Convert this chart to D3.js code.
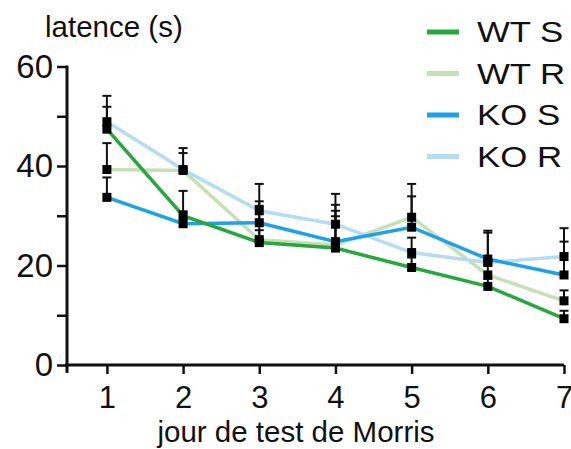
<!DOCTYPE html>
<html>
<head>
<meta charset="utf-8">
<script src="https://cdn.jsdelivr.net/npm/d3@7"></script>
<style>
  body { margin: 0; background: #fff; }
  text { font-family: "Liberation Sans", Arial, sans-serif; fill: #111; }
</style>
</head>
<body>
<svg id="chart" width="571" height="449"></svg>
<script>
// jours du test
const days = [1, 2, 3, 4, 5, 6, 7];
const yTicks = [0, 10, 20, 30, 40, 50, 60];
const yLabels = [0, 20, 40, 60];

// moyennes (latence en s)
const wtS = [47.4, 30.0, 24.6, 23.5, 19.6, 15.8, 9.3];
const wtR = [39.3, 39.1, 25.2, 24.1, 29.7, 18.1, 12.9];
const koS = [33.7, 28.4, 28.6, 24.8, 27.7, 21.3, 18.1];
const koR = [48.9, 39.3, 31.0, 28.3, 22.6, 20.6, 21.8];

// erreurs (barre vers le haut seulement)
const wtSErr = [4.5, 5.0, 2.5, 6.4, 2.0, 1.5, 1.6];
const wtRErr = [5.3, 3.5, 6.8, 6.9, 6.7, 2.0, 2.1];
const koSErr = [4.0, 2.5, 4.3, 7.4, 6.2, 5.7, 6.7];
const koRErr = [5.2, 4.3, 5.4, 6.1, 3.0, 6.0, 5.7];

const names = ["WT S", "WT R", "KO S", "KO R"];
const colors = ["#27a83e", "#c5e1b3", "#1ca2e8", "#b4dcf3"];

const series = [
  { name: names[0], color: colors[0], values: wtS, err: wtSErr },
  { name: names[1], color: colors[1], values: wtR, err: wtRErr },
  { name: names[2], color: colors[2], values: koS, err: koSErr },
  { name: names[3], color: colors[3], values: koR, err: koRErr }
];

const svg = d3.select("#chart");

const x = d3.scaleLinear().domain([0.45, 7]).range([65, 564]);
const y = d3.scaleLinear().domain([0, 60]).range([365, 66.5]);
const yAxisX = 67;

// axes
const yAxis = svg.append("g")
    .attr("transform", `translate(${yAxisX},0)`)
    .call(d3.axisLeft(y).tickValues(yTicks).tickSize(10).tickPadding(4)
        .tickFormat(d => yLabels.includes(d) ? d : ""));
yAxis.select(".domain").remove();
yAxis.selectAll(".tick line").attr("stroke", "#111").attr("stroke-width", 2.5);
yAxis.selectAll(".tick text").style("font-size", "33px").attr("fill", "#111");

const xAxis = svg.append("g")
    .attr("transform", `translate(0,${y(0)})`)
    .call(d3.axisBottom(x).tickValues(days).tickSize(9).tickPadding(12)
        .tickFormat(d3.format("d")));
xAxis.select(".domain").remove();
xAxis.selectAll(".tick line").attr("stroke", "#111").attr("stroke-width", 2.5);
xAxis.selectAll(".tick text").style("font-size", "31px").attr("fill", "#111");

svg.append("line")
    .attr("x1", yAxisX).attr("x2", yAxisX)
    .attr("y1", y(60) - 1).attr("y2", y(0) + 8)
    .attr("stroke", "#111").attr("stroke-width", 3);
svg.append("line")
    .attr("x1", x.range()[0]).attr("x2", x.range()[1])
    .attr("y1", y(0)).attr("y2", y(0))
    .attr("stroke", "#111").attr("stroke-width", 3);

// titres
svg.append("text")
    .attr("x", 45).attr("y", 37)
    .style("font-size", "29.5px")
    .text("latence (s)");
svg.append("text")
    .attr("x", 296).attr("y", 442)
    .attr("text-anchor", "middle")
    .style("font-size", "29.5px")
    .text("jour de test de Morris");

// courbes
const line = d3.line().x((d, i) => x(days[i])).y(d => y(d));
const drawOrder = [1, 3, 2, 0];

svg.append("g").selectAll("path")
    .data(drawOrder.map(i => series[i]))
    .join("path")
    .attr("d", d => line(d.values))
    .attr("fill", "none")
    .attr("stroke", d => d.color)
    .attr("stroke-width", 3.5);

// barres d'erreur + marqueurs
const pts = [];
series.forEach(s => s.values.forEach((v, i) => pts.push({ day: days[i], v: v, e: s.err[i] })));

const eb = svg.append("g").attr("stroke", "#111").attr("stroke-width", 2);
eb.selectAll("line.bar").data(pts).join("line")
    .attr("class", "bar")
    .attr("x1", d => x(d.day)).attr("x2", d => x(d.day))
    .attr("y1", d => y(d.v)).attr("y2", d => y(d.v + d.e));
eb.selectAll("line.cap").data(pts).join("line")
    .attr("class", "cap")
    .attr("x1", d => x(d.day) - 4.5).attr("x2", d => x(d.day) + 4.5)
    .attr("y1", d => y(d.v + d.e)).attr("y2", d => y(d.v + d.e));

const m = 9;
svg.append("g").selectAll("rect").data(pts).join("rect")
    .attr("x", d => x(d.day) - m / 2)
    .attr("y", d => y(d.v) - m / 2)
    .attr("width", m).attr("height", m)
    .attr("fill", "#000");

// légende
const legendY = [32, 73.5, 115, 156.5];
const legend = svg.append("g").selectAll("g")
    .data(series)
    .join("g")
    .attr("transform", (d, i) => `translate(427,${legendY[i]})`);
legend.append("line")
    .attr("x1", 0).attr("x2", 32)
    .attr("stroke", d => d.color)
    .attr("stroke-width", 5);
legend.append("text")
    .attr("transform", "translate(50,10) scale(1.2,1)")
    .style("font-size", "29px")
    .text(d => d.name);
</script>
</body>
</html>
